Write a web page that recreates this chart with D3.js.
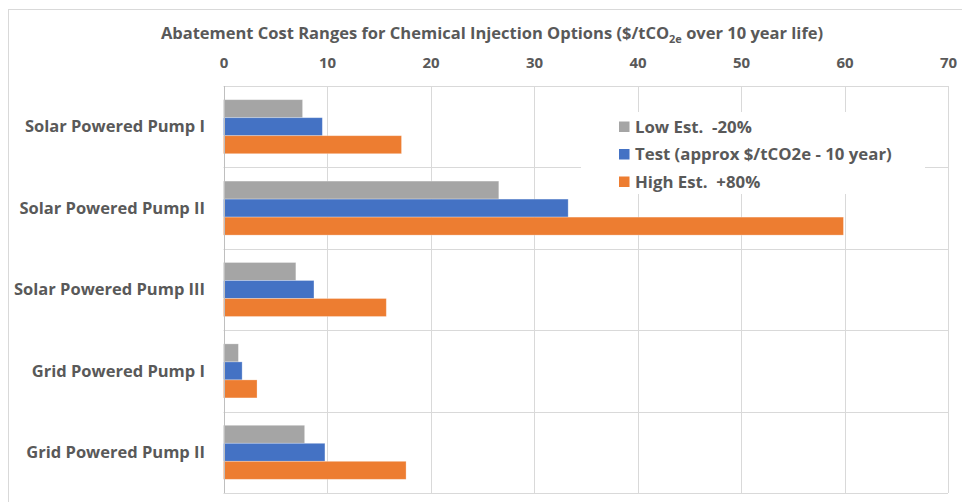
<!DOCTYPE html>
<html>
<head>
<meta charset="utf-8">
<script src="https://cdn.jsdelivr.net/npm/d3@7"></script>
<style>
  html, body { margin: 0; padding: 0; background: #fff; }
  svg { display: block; }
  text { font-family: "Open Sans", sans-serif; font-weight: 700; fill: #595959; white-space: pre; }
</style>
</head>
<body>
<svg id="chart" width="962" height="502"></svg>
<script>
const categories = ["Solar Powered Pump I", "Solar Powered Pump II", "Solar Powered Pump III", "Grid Powered Pump I", "Grid Powered Pump II"];
const seriesNames = ["Low Est.  -20%", "Test (approx $/tCO2e - 10 year)", "High Est.  +80%"];
const lowValues  = [7.64, 26.6, 6.99, 1.44, 7.84];
const testValues = [9.55, 33.3, 8.74, 1.80, 9.80];
const highValues = [17.2, 59.9, 15.73, 3.24, 17.64];
const seriesColors = ["#A5A5A5", "#4472C4", "#ED7D31"];
const xTicks = [0, 10, 20, 30, 40, 50, 60, 70];

const seriesValues = [lowValues, testValues, highValues];
const svg = d3.select("#chart");

const plot = { left: 223.5, right: 948, top: 86, bottom: 493 };

// outer chart border (cropped on right and bottom)
svg.append("rect").attr("x", 8.5).attr("y", 9.5).attr("width", 980).attr("height", 520)
  .attr("fill", "none").attr("stroke", "#d9d9d9").attr("stroke-width", 1);

const x = d3.scaleLinear().domain([0, 70]).range([plot.left, plot.right]);
const y = d3.scaleBand().domain(categories).range([plot.top, plot.bottom]).padding(0);
const ySub = d3.scaleBand().domain(d3.range(seriesNames.length)).range([0, y.bandwidth()])
  .paddingInner(0).paddingOuter(0.76);

// vertical gridlines
svg.append("g").selectAll("line").data(xTicks.slice(1)).join("line")
  .attr("x1", d => Math.round(x(d)) + 0.5).attr("x2", d => Math.round(x(d)) + 0.5)
  .attr("y1", plot.top).attr("y2", plot.bottom)
  .attr("stroke", "#d9d9d9").attr("stroke-width", 1);

// horizontal category gridlines
const hLines = categories.map(c => y(c)).concat([plot.bottom]);
svg.append("g").selectAll("line").data(hLines).join("line")
  .attr("x1", plot.left).attr("x2", plot.right)
  .attr("y1", d => Math.round(d) + 0.5).attr("y2", d => Math.round(d) + 0.5)
  .attr("stroke", "#d9d9d9").attr("stroke-width", 1);

// bars
const barData = [];
categories.forEach((c, i) => {
  seriesValues.forEach((vals, s) => barData.push({ c, s, v: vals[i] }));
});
svg.append("g").selectAll("rect").data(barData).join("rect")
  .attr("x", x(0))
  .attr("y", d => y(d.c) + ySub(d.s))
  .attr("width", d => x(d.v) - x(0))
  .attr("height", ySub.bandwidth())
  .attr("fill", d => seriesColors[d.s])
  .attr("stroke", "#ffffff").attr("stroke-opacity", 0.35).attr("stroke-width", 0.8);

// value axis line (left)
svg.append("line").attr("x1", Math.round(x(0)) + 0.5).attr("x2", Math.round(x(0)) + 0.5)
  .attr("y1", plot.top).attr("y2", plot.bottom).attr("stroke", "#bfbfbf");

// top x axis
const xAxis = d3.axisTop(x).tickValues(xTicks).tickSize(0).tickPadding(0);
const gx = svg.append("g").attr("transform", "translate(0,68)").call(xAxis);
gx.select(".domain").remove();
gx.selectAll("text").style("font-size", "15px").style("font-family", "'Open Sans', sans-serif")
  .style("font-weight", 700).attr("fill", "#595959");

// category axis
const yAxis = d3.axisLeft(y).tickSize(0).tickPadding(0);
const gy = svg.append("g").attr("transform", "translate(205,0)").call(yAxis);
gy.select(".domain").remove();
gy.selectAll("text").style("font-size", "16.5px").style("font-family", "'Open Sans', sans-serif")
  .style("font-weight", 700).attr("fill", "#595959").attr("dy", "0.35em");

// title
const title = svg.append("text").attr("x", 492).attr("y", 39).attr("text-anchor", "middle")
  .style("font-size", "16.5px");
title.append("tspan").text("Abatement Cost Ranges for Chemical Injection Options ($/tCO");
title.append("tspan").text("2e").attr("font-size", "11px").attr("dy", 4);
title.append("tspan").text(" over 10 year life)").attr("dy", -4);

// legend
const lg = svg.append("g");
lg.append("rect").attr("x", 581).attr("y", 112).attr("width", 344).attr("height", 82).attr("fill", "#fff");
const items = lg.selectAll("g").data(seriesNames).join("g")
  .attr("transform", (d, i) => `translate(619,${121.5 + i * 27.5})`);
items.append("rect").attr("width", 10.5).attr("height", 10.5).attr("fill", (d, i) => seriesColors[i]);
items.append("text").attr("x", 16).attr("y", 5.5).attr("dy", "0.35em")
  .style("font-size", "16.8px").text(d => d);
</script>
</body>
</html>
